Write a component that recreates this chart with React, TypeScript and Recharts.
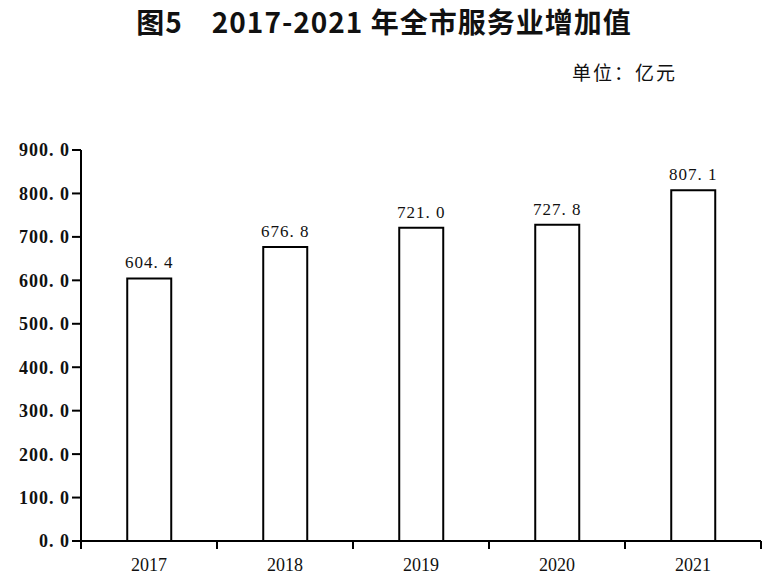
import React from "react";
import {Bar, BarChart, LabelList, XAxis, YAxis} from "recharts";

const years = ["2017", "2018", "2019", "2020", "2021"];
const values = [604.4, 676.8, 721.0, 727.8, 807.1];
const yTicks = [0, 100, 200, 300, 400, 500, 600, 700, 800, 900];

const data = years.map((year, i) => ({year, value: values[i]}));

const fmt = (v: number) => v.toFixed(1).replace(".", ". ");

const serif = "'Liberation Serif', 'DejaVu Serif', serif";

const XTick = (props: any) => {
    const {x, y, payload, index} = props;
    const off = payload.offset || 0;
    return (
        <g>
            <line x1={x - off} y1={y - 8} x2={x - off} y2={y} stroke="#000" strokeWidth={2}/>
            {index === years.length - 1 &&
                <line x1={x + off} y1={y - 8} x2={x + off} y2={y} stroke="#000" strokeWidth={2}/>}
            <text x={x} y={y + 22} textAnchor="middle" fontFamily={serif} fontSize={18} fill="#111">
                {payload.value}
            </text>
        </g>
    );
};

export default function App() {
    return (
        <div style={{position: "absolute", left: 0, top: 0, width: 768, height: 583, background: "#fff"}}>
            <div style={{
                position: "absolute", left: 0, width: 768, top: 1, textAlign: "center", letterSpacing: 1,
                fontFamily: "'Noto Sans CJK SC', sans-serif", fontWeight: 700, fontSize: 28, color: "#111"
            }}>
                图5　2017-2021 年全市服务业增加值
            </div>
            <div style={{
                position: "absolute", left: 572, top: 58, letterSpacing: 2,
                fontFamily: "'Noto Sans CJK SC', sans-serif", fontSize: 19, color: "#111"
            }}>
                单位：亿元
            </div>
            <BarChart width={768} height={583} data={data}
                      margin={{top: 150, right: 7, bottom: 0, left: 0}}
                      barCategoryGap="34%">
                <XAxis dataKey="year" height={42} tickLine={false} tick={<XTick/>}
                       axisLine={{stroke: "#000", strokeWidth: 2}} interval={0}/>
                <YAxis width={81} domain={[0, 900]} ticks={yTicks} interval={0} tickSize={9}
                       tickFormatter={fmt}
                       axisLine={{stroke: "#000", strokeWidth: 2}}
                       tickLine={{stroke: "#000", strokeWidth: 2}}
                       tick={{fill: "#111", fontFamily: serif, fontSize: 18, fontWeight: 700, letterSpacing: 1}}/>
                <Bar dataKey="value" fill="#fff" stroke="#000" strokeWidth={2} isAnimationActive={false}>
                    <LabelList dataKey="value" position="top" offset={10} formatter={(v: any) => fmt(Number(v))}
                               style={{fill: "#111", fontFamily: serif, fontSize: 17, letterSpacing: 1}}/>
                </Bar>
            </BarChart>
        </div>
    );
}
